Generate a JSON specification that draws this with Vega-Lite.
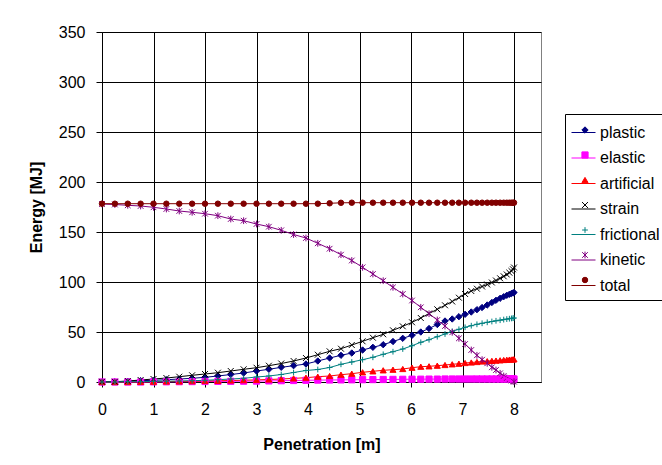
{
  "$schema": "https://vega.github.io/schema/vega-lite/v6.json",
  "autosize": {"type": "none"},
  "padding": {"left": 102, "top": 32, "right": 121, "bottom": 83},
  "width": 439,
  "height": 350,
  "background": "white",
  "config": {
    "view": {"stroke": "#808080", "strokeWidth": 1},
    "font": "Liberation Sans",
    "axis": {
      "labelFont": "Liberation Sans",
      "labelFontSize": 16,
      "labelColor": "black",
      "titleFont": "Liberation Sans",
      "titleFontSize": 16,
      "titleFontWeight": "bold",
      "titleColor": "black",
      "domainColor": "black",
      "tickColor": "black",
      "gridColor": "black",
      "gridOpacity": 1,
      "grid": true
    },
    "legend": {"labelFont": "Liberation Sans", "labelFontSize": 16, "labelColor": "black"}
  },
  "data": {
    "values": [
      {"x": 0, "plastic": 0, "elastic": 0, "artificial": 0, "strain": 0.3, "frictional": 0, "kinetic": 178, "total": 178.3},
      {"x": 0.25, "plastic": 0.3, "elastic": 0, "artificial": 0, "strain": 0.3, "frictional": 0, "kinetic": 177.5, "total": 178.3},
      {"x": 0.5, "plastic": 0.7, "elastic": 0, "artificial": 0, "strain": 1, "frictional": 0.3, "kinetic": 176.7, "total": 178.3},
      {"x": 0.75, "plastic": 1.3, "elastic": 0, "artificial": 0.2, "strain": 2, "frictional": 0.3, "kinetic": 176, "total": 178.3},
      {"x": 1.0, "plastic": 1.7, "elastic": 0.1, "artificial": 0.3, "strain": 3, "frictional": 0.7, "kinetic": 174.7, "total": 178.3},
      {"x": 1.25, "plastic": 2.3, "elastic": 0.2, "artificial": 0.5, "strain": 4, "frictional": 0.8, "kinetic": 173, "total": 178.3},
      {"x": 1.5, "plastic": 3, "elastic": 0.3, "artificial": 0.6, "strain": 5.3, "frictional": 1, "kinetic": 171, "total": 178.3},
      {"x": 1.75, "plastic": 3.7, "elastic": 0.4, "artificial": 0.8, "strain": 6.7, "frictional": 1.3, "kinetic": 169.7, "total": 178.3},
      {"x": 2.0, "plastic": 4.7, "elastic": 0.5, "artificial": 1, "strain": 8, "frictional": 1.7, "kinetic": 168.3, "total": 178.3},
      {"x": 2.25, "plastic": 6, "elastic": 0.6, "artificial": 1.2, "strain": 9.3, "frictional": 2.3, "kinetic": 166.3, "total": 178.3},
      {"x": 2.5, "plastic": 7.5, "elastic": 0.7, "artificial": 1.5, "strain": 11, "frictional": 3, "kinetic": 163, "total": 178.3},
      {"x": 2.75, "plastic": 9, "elastic": 0.8, "artificial": 1.8, "strain": 12.7, "frictional": 3.7, "kinetic": 161.3, "total": 178.3},
      {"x": 3.0, "plastic": 11, "elastic": 0.9, "artificial": 2.1, "strain": 14.3, "frictional": 5, "kinetic": 158, "total": 178.3},
      {"x": 3.24, "plastic": 12.7, "elastic": 1.1, "artificial": 2.5, "strain": 16.3, "frictional": 6, "kinetic": 155.3, "total": 178.3},
      {"x": 3.48, "plastic": 14.7, "elastic": 1.3, "artificial": 3, "strain": 18.5, "frictional": 7.5, "kinetic": 151.7, "total": 178.3},
      {"x": 3.72, "plastic": 16.3, "elastic": 1.5, "artificial": 3.6, "strain": 21, "frictional": 9.5, "kinetic": 147.5, "total": 178.3},
      {"x": 3.96, "plastic": 18, "elastic": 1.7, "artificial": 4.3, "strain": 24, "frictional": 11.5, "kinetic": 144, "total": 178.3},
      {"x": 4.19, "plastic": 21, "elastic": 1.9, "artificial": 5.3, "strain": 27.3, "frictional": 12.5, "kinetic": 138.7, "total": 178.3},
      {"x": 4.42, "plastic": 24, "elastic": 2, "artificial": 6, "strain": 30.7, "frictional": 14.5, "kinetic": 133.3, "total": 178.7},
      {"x": 4.64, "plastic": 26.7, "elastic": 2.1, "artificial": 7.3, "strain": 33.3, "frictional": 17.7, "kinetic": 127.3, "total": 179.2},
      {"x": 4.85, "plastic": 29, "elastic": 2.2, "artificial": 8.3, "strain": 37, "frictional": 20, "kinetic": 121.5, "total": 179.3},
      {"x": 5.06, "plastic": 32, "elastic": 2.3, "artificial": 9.7, "strain": 40.7, "frictional": 22.3, "kinetic": 114.7, "total": 179.3},
      {"x": 5.26, "plastic": 34.7, "elastic": 2.4, "artificial": 10.7, "strain": 44.3, "frictional": 24.7, "kinetic": 108, "total": 179.3},
      {"x": 5.46, "plastic": 37.3, "elastic": 2.5, "artificial": 11.7, "strain": 47.7, "frictional": 27.7, "kinetic": 101.3, "total": 179.3},
      {"x": 5.65, "plastic": 40.5, "elastic": 2.6, "artificial": 12.3, "strain": 51.7, "frictional": 30.3, "kinetic": 94.7, "total": 179.3},
      {"x": 5.84, "plastic": 43.7, "elastic": 2.7, "artificial": 13, "strain": 55.7, "frictional": 33, "kinetic": 88, "total": 179.3},
      {"x": 6.02, "plastic": 46.7, "elastic": 2.8, "artificial": 14.3, "strain": 59.7, "frictional": 36.3, "kinetic": 81.5, "total": 179.3},
      {"x": 6.19, "plastic": 50, "elastic": 2.8, "artificial": 15.3, "strain": 64, "frictional": 39.7, "kinetic": 74.7, "total": 179.3},
      {"x": 6.35, "plastic": 53.5, "elastic": 2.9, "artificial": 15.7, "strain": 68.5, "frictional": 42.3, "kinetic": 68.3, "total": 179.3},
      {"x": 6.51, "plastic": 57.5, "elastic": 2.9, "artificial": 16.3, "strain": 72.7, "frictional": 45.3, "kinetic": 62, "total": 179.3},
      {"x": 6.66, "plastic": 61, "elastic": 3, "artificial": 17, "strain": 76.7, "frictional": 48, "kinetic": 56, "total": 179.3},
      {"x": 6.8, "plastic": 63, "elastic": 3, "artificial": 17.7, "strain": 80.5, "frictional": 50.7, "kinetic": 49.7, "total": 179.3},
      {"x": 6.93, "plastic": 65.3, "elastic": 3, "artificial": 18.3, "strain": 84.3, "frictional": 52.7, "kinetic": 43.7, "total": 179.3},
      {"x": 7.05, "plastic": 67.7, "elastic": 3, "artificial": 19, "strain": 88, "frictional": 54.7, "kinetic": 38, "total": 179.3},
      {"x": 7.17, "plastic": 70, "elastic": 3, "artificial": 19.5, "strain": 91, "frictional": 56.3, "kinetic": 32, "total": 179.3},
      {"x": 7.28, "plastic": 72.3, "elastic": 3, "artificial": 20, "strain": 93.3, "frictional": 57.7, "kinetic": 26.7, "total": 179.3},
      {"x": 7.38, "plastic": 74.5, "elastic": 3, "artificial": 20.5, "strain": 95.5, "frictional": 58.7, "kinetic": 22.3, "total": 179.3},
      {"x": 7.48, "plastic": 77, "elastic": 3, "artificial": 20.8, "strain": 97.5, "frictional": 59.7, "kinetic": 18.7, "total": 179.3},
      {"x": 7.57, "plastic": 79.5, "elastic": 3, "artificial": 21.1, "strain": 99.5, "frictional": 60.5, "kinetic": 14.7, "total": 179.3},
      {"x": 7.65, "plastic": 81.7, "elastic": 3, "artificial": 21.4, "strain": 101.5, "frictional": 61.2, "kinetic": 12, "total": 179.3},
      {"x": 7.73, "plastic": 83.7, "elastic": 3, "artificial": 21.7, "strain": 103.7, "frictional": 61.8, "kinetic": 8.7, "total": 179.3},
      {"x": 7.8, "plastic": 85.3, "elastic": 3, "artificial": 22, "strain": 105.7, "frictional": 62.4, "kinetic": 6, "total": 179.3},
      {"x": 7.86, "plastic": 86.7, "elastic": 3, "artificial": 22.2, "strain": 107.5, "frictional": 62.9, "kinetic": 4, "total": 179.3},
      {"x": 7.91, "plastic": 87.7, "elastic": 3, "artificial": 22.4, "strain": 109.3, "frictional": 63.3, "kinetic": 2.5, "total": 179.3},
      {"x": 7.95, "plastic": 88.5, "elastic": 3, "artificial": 22.5, "strain": 111, "frictional": 63.6, "kinetic": 1.5, "total": 179.3},
      {"x": 7.98, "plastic": 89, "elastic": 3, "artificial": 22.6, "strain": 112.7, "frictional": 63.8, "kinetic": 0.8, "total": 179.3},
      {"x": 8.0, "plastic": 89.5, "elastic": 3, "artificial": 22.7, "strain": 114.5, "frictional": 64, "kinetic": 0.3, "total": 179.3}
    ]
  },
  "transform": [
    {"fold": ["plastic", "elastic", "artificial", "strain", "frictional", "kinetic", "total"], "as": ["series", "value"]}
  ],
  "encoding": {
    "x": {
      "field": "x", "type": "quantitative",
      "scale": {"domain": [0, 8.524], "nice": false, "zero": false},
      "axis": {"values": [0, 1, 2, 3, 4, 5, 6, 7, 8], "format": "d", "title": "Penetration [m]", "tickSize": 5, "labelPadding": 14, "titlePadding": 19, "labelFlush": false}
    },
    "y": {
      "field": "value", "type": "quantitative",
      "scale": {"domain": [0, 350], "nice": false},
      "axis": {"values": [0, 50, 100, 150, 200, 250, 300, 350], "title": "Energy [MJ]", "tickSize": 6, "labelPadding": 11, "titlePadding": 14}
    }
  },
  "layer": [
    {
      "mark": {"type": "line", "strokeWidth": 1, "clip": false},
      "encoding": {
        "color": {
          "field": "series", "type": "nominal",
          "sort": ["plastic", "elastic", "artificial", "strain", "frictional", "kinetic", "total"],
          "scale": {
            "range": ["#000080", "#ff00ff", "#ff0000", "#000000", "#008080", "#800080", "#800000"]
          },
          "legend": {
            "orient": "none", "legendX": 463, "legendY": 82, "title": null,
            "symbolType": "stroke", "symbolSize": 576, "symbolStrokeWidth": 1,
            "labelOffset": 4, "rowPadding": 4.5, "padding": 6,
            "strokeColor": "black", "labelFontSize": 16
          }
        }
      }
    },
    {
      "mark": {"type": "point", "filled": true, "strokeWidth": 1, "opacity": 1, "clip": false},
      "encoding": {
        "fill": {
          "field": "series", "type": "nominal",
          "scale": {"domain": ["plastic", "elastic", "artificial", "strain", "frictional", "kinetic", "total"], "range": ["#000080", "#ff00ff", "#ff0000", "#000000", "#008080", "#800080", "#800000"]}
        },
        "stroke": {
          "field": "series", "type": "nominal",
          "scale": {"domain": ["plastic", "elastic", "artificial", "strain", "frictional", "kinetic", "total"], "range": ["#000080", "#ff00ff", "#ff0000", "#000000", "#008080", "#800080", "#800000"]}
        },
        "size": {
          "field": "series", "type": "nominal",
          "scale": {"domain": ["plastic", "elastic", "artificial", "strain", "frictional", "kinetic", "total"], "range": [40, 30, 42, 42, 42, 50, 49]}
        },
        "shape": {
          "field": "series", "type": "nominal",
          "scale": {"domain": ["plastic", "elastic", "artificial", "strain", "frictional", "kinetic", "total"], "range": ["diamond", "square", "triangle-up", "M-1,-1L1,1M1,-1L-1,1", "M-1,0L1,0M0,-1L0,1", "M-1,-1L1,1M1,-1L-1,1M0,-1.2L0,1.2", "circle"]},
          "legend": {
            "orient": "none", "legendX": 469, "legendY": 84, "title": null,
            "symbolStrokeWidth": 1, "labelOffset": 4, "rowPadding": 9, "padding": 6,
            "labelOpacity": 0, "labelFontSize": 16, "labelExpr": "''"
          }
        }
      }
    }
  ]
}
